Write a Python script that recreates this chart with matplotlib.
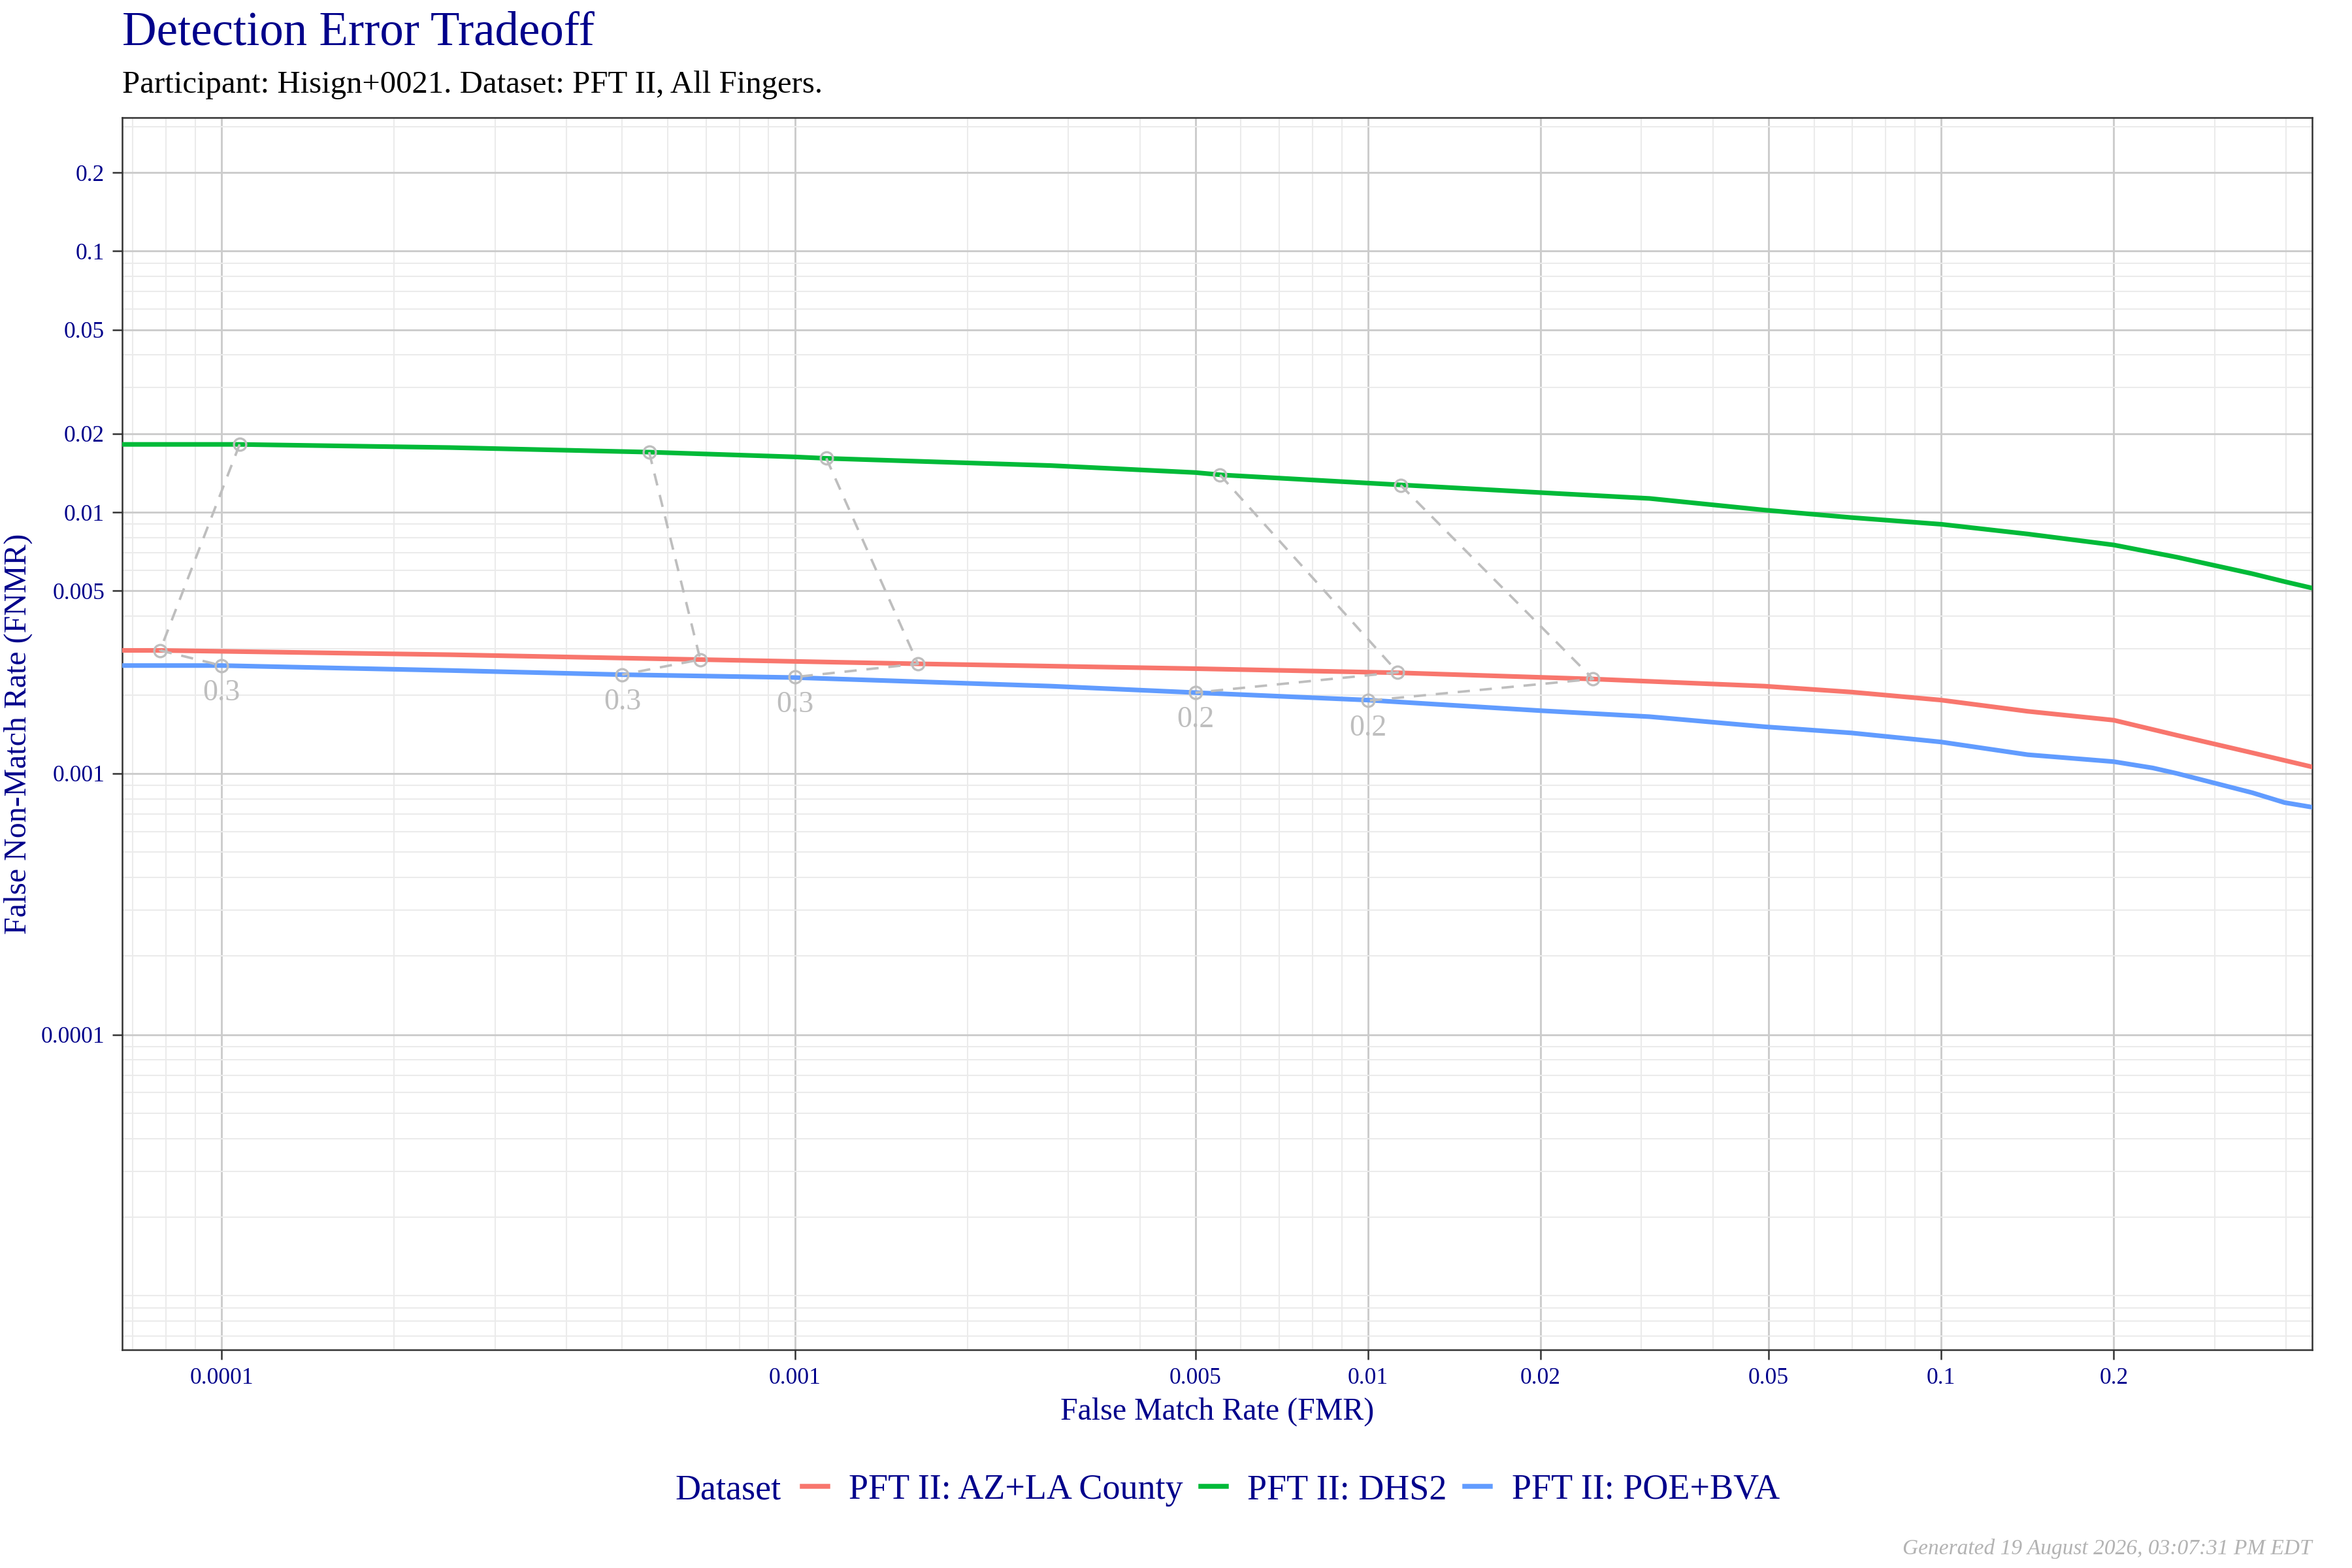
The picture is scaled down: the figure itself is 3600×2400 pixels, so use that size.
import matplotlib
matplotlib.use("Agg")
import matplotlib.pyplot as plt
from matplotlib.ticker import FixedLocator, FixedFormatter, LogLocator, NullFormatter
from matplotlib.lines import Line2D

# ---- data ----
dataset_names = ["PFT II: AZ+LA County", "PFT II: DHS2", "PFT II: POE+BVA"]
dataset_colors = ["#F8766D", "#00BA38", "#619CFF"]

az_fmr = [6.7e-5, 7.8e-5, 2.5e-4, 6.84e-4, 1.64e-3, 5.0e-3, 1.13e-2, 2.47e-2,
          4.92e-2, 6.97e-2, 0.1, 0.1416, 0.2, 0.258, 0.349, 0.4436]
az_fnmr = [0.00296, 0.00296, 0.00285, 0.00273, 0.00263, 0.00252, 0.00243, 0.00230,
           0.00216, 0.00205, 0.00191, 0.00173, 0.00160, 0.00140, 0.00120, 0.00106]

dhs_fmr = [6.7e-5, 1.07e-4, 2.5e-4, 5.57e-4, 1.0e-3, 1.13e-3, 2.8e-3, 5.0e-3, 5.57e-3,
           1.13e-2, 2.0e-2, 3.1e-2, 4.92e-2, 6.97e-2, 0.1, 0.1416, 0.2, 0.258, 0.349,
           0.397, 0.4436]
dhs_fnmr = [0.0182, 0.0182, 0.0177, 0.0170, 0.0163, 0.0161, 0.0151, 0.0142, 0.0139,
            0.01275, 0.0119, 0.0113, 0.0102, 0.00955, 0.0090, 0.00826, 0.0075, 0.00673,
            0.00582, 0.00543, 0.00513]

poe_fmr = [6.7e-5, 1.0e-4, 2.5e-4, 5.0e-4, 1.0e-3, 2.8e-3, 5.0e-3, 1.0e-2, 2.0e-2,
           3.1e-2, 4.92e-2, 6.97e-2, 0.1, 0.1416, 0.2, 0.234, 0.258, 0.349, 0.397, 0.4436]
poe_fnmr = [0.00259, 0.00259, 0.00248, 0.00239, 0.00233, 0.00216, 0.00204, 0.00191, 0.00174,
            0.00165, 0.00151, 0.00143, 0.00132, 0.00118, 0.00111, 0.00105, 0.00100, 0.000844,
            0.000774, 0.000743]

# threshold markers (one per curve), labelled at the POE+BVA point
thr_labels = ["0.3", "0.3", "0.3", "0.2", "0.2"]
thr_dhs_fmr = [1.075e-4, 5.57e-4, 1.135e-3, 5.52e-3, 1.14e-2]
thr_dhs_fnmr = [0.0182, 0.0170, 0.0161, 0.0139, 0.0127]
thr_az_fmr = [7.81e-5, 6.84e-4, 1.64e-3, 1.127e-2, 2.47e-2]
thr_az_fnmr = [0.00296, 0.00273, 0.00263, 0.00244, 0.00230]
thr_poe_fmr = [1.0e-4, 5.0e-4, 1.0e-3, 5.0e-3, 1.0e-2]
thr_poe_fnmr = [0.00259, 0.00239, 0.00234, 0.00204, 0.00190]

x_ticks = [0.0001, 0.001, 0.005, 0.01, 0.02, 0.05, 0.1, 0.2]
x_tick_labels = ["0.0001", "0.001", "0.005", "0.01", "0.02", "0.05", "0.1", "0.2"]
y_ticks = [0.0001, 0.001, 0.005, 0.01, 0.02, 0.05, 0.1, 0.2]
y_tick_labels = ["0.0001", "0.001", "0.005", "0.01", "0.02", "0.05", "0.1", "0.2"]

title = "Detection Error Tradeoff"
subtitle = "Participant: Hisign+0021. Dataset: PFT II, All Fingers."
caption = "Generated 19 August 2026, 03:07:31 PM EDT"

# ---- style ----
plt.rcParams['font.family'] = ['Liberation Serif', 'DejaVu Serif']
navy = "#00008B"
grey_ann = "#BEBEBE"

fig = plt.figure(figsize=(12, 8), dpi=300)
ax = fig.add_axes([0.052, 0.139, 0.931, 0.786])

ax.set_xscale('log')
ax.set_yscale('log')
ax.set_xlim(6.71e-5, 0.4436)
ax.set_ylim(6.2e-6, 0.3246)

curves = [(az_fmr, az_fnmr), (dhs_fmr, dhs_fnmr), (poe_fmr, poe_fnmr)]
for (fx, fy), name, col in zip(curves, dataset_names, dataset_colors):
    ax.plot(fx, fy, color=col, lw=1.7, label=name, zorder=3, solid_joinstyle='round')

# dashed threshold connectors: DHS2 -> AZ+LA -> POE+BVA
for i in range(len(thr_labels)):
    xs = [thr_dhs_fmr[i], thr_az_fmr[i], thr_poe_fmr[i]]
    ys = [thr_dhs_fnmr[i], thr_az_fnmr[i], thr_poe_fnmr[i]]
    ax.plot(xs, ys, color=grey_ann, lw=0.9, linestyle=(0, (5, 4)), zorder=4,
            marker='o', markersize=4.5, markerfacecolor='none',
            markeredgecolor=grey_ann, markeredgewidth=0.8)
    ax.annotate(thr_labels[i], (thr_poe_fmr[i], thr_poe_fnmr[i]),
                xytext=(0, -5), textcoords='offset points',
                ha='center', va='top', fontsize=11, color=grey_ann, zorder=5)

# ticks and grid
ax.xaxis.set_major_locator(FixedLocator(x_ticks))
ax.xaxis.set_major_formatter(FixedFormatter(x_tick_labels))
ax.yaxis.set_major_locator(FixedLocator(y_ticks))
ax.yaxis.set_major_formatter(FixedFormatter(y_tick_labels))
ax.xaxis.set_minor_locator(LogLocator(base=10, subs=range(1, 10), numticks=50))
ax.yaxis.set_minor_locator(LogLocator(base=10, subs=range(1, 10), numticks=50))
ax.xaxis.set_minor_formatter(NullFormatter())
ax.yaxis.set_minor_formatter(NullFormatter())

ax.grid(True, which='minor', color='#EBEBEB', lw=0.5, zorder=0)
ax.grid(True, which='major', color='#CCCCCC', lw=0.7, zorder=1)
ax.set_axisbelow(True)

ax.tick_params(which='minor', length=0)
ax.tick_params(which='major', length=3.5, width=0.6, color='#333333',
               labelcolor=navy, labelsize=8.5, pad=3)
for sp in ax.spines.values():
    sp.set_color('#333333')
    sp.set_linewidth(0.6)

ax.set_xlabel("False Match Rate (FMR)", color=navy, fontsize=11.5, labelpad=3)
ax.set_ylabel("False Non-Match Rate (FNMR)", color=navy, fontsize=11.5)
ax.yaxis.set_label_coords(-0.041, 0.5)

fig.text(0.052, 0.979, title, color=navy, fontsize=17.5, ha='left', va='center')
fig.text(0.052, 0.946, subtitle, color='black', fontsize=11.7, ha='left', va='center')
fig.text(0.983, 0.0125, caption, color='#B3B3B3', fontsize=8.0, style='italic',
         ha='right', va='center')

# legend with title inline on the left
fig.text(0.287, 0.0495, "Dataset", color=navy, fontsize=13, ha='left', va='center')
handles = [Line2D([0], [0], color=c, lw=1.8) for c in dataset_colors]
leg = fig.legend(handles, dataset_names, loc='center left', bbox_to_anchor=(0.341, 0.0495),
                 ncol=3, frameon=False, fontsize=13, handlelength=0.72,
                 handletextpad=0.6, columnspacing=0.5, borderpad=0, borderaxespad=0)
for t in leg.get_texts():
    t.set_color(navy)

fig.savefig("out.png", dpi=300)
